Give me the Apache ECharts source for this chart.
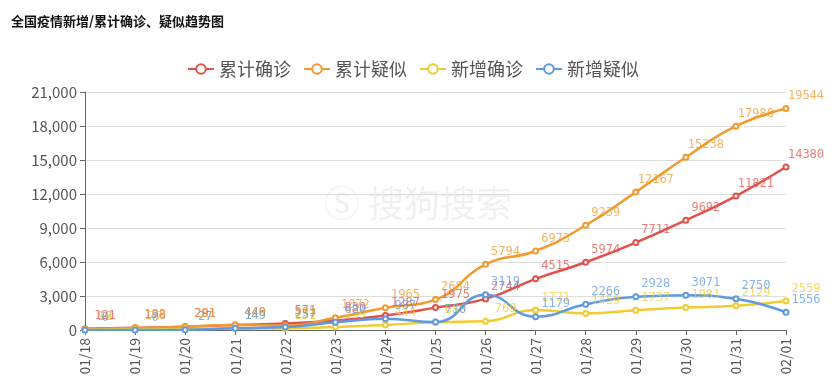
<!DOCTYPE html>
<html><head><meta charset="utf-8">
<script src="https://cdn.jsdelivr.net/npm/echarts@6/dist/echarts.min.js"></script>
<style>html,body{margin:0;padding:0;background:#fff}#c{width:836px;height:385px}</style>
</head><body><div id="c"></div>
<script>
var dates = ['01/18','01/19','01/20','01/21','01/22','01/23','01/24','01/25','01/26','01/27','01/28','01/29','01/30','01/31','02/01'];
var cumConfirmed = [121,198,291,440,571,830,1287,1975,2744,4515,5974,7711,9692,11821,14380];
var cumSuspected = [98,178,281,449,393,1072,1965,2684,5794,6973,9239,12167,15238,17988,19544];
var newConfirmed = [17,77,77,149,131,259,444,688,769,1771,1459,1737,1981,2129,2559];
var newSuspected = [0,0,27,149,257,680,987,710,3119,1179,2266,2928,3071,2750,1556];
var names = ['累计确诊','累计疑似','新增确诊','新增疑似'];
var colors = ['#e0524c','#f09a30','#f0cc30','#5f9ae0'];
var seriesData = [cumConfirmed, cumSuspected, newConfirmed, newSuspected];

var chart = echarts.init(document.getElementById('c'));
var font = '"Noto Sans CJK SC","Noto Sans",sans-serif';
chart.setOption({
  animation: false,
  color: colors,
  title: {text: '全国疫情新增/累计确诊、疑似趋势图', left: 6, top: 10,
    textStyle: {fontSize: 13, fontWeight: 'bold', color: '#111', fontFamily: font}},
  legend: {top: 55, left: 182, itemWidth: 26, itemHeight: 12, itemGap: 12,
    textStyle: {fontSize: 18, color: '#555', fontFamily: font},
    data: names},
  grid: {left: 85, right: 50, top: 92, bottom: 55},
  graphic: [{type: 'text', left: 'center', top: 185, style: {text: 'Ⓢ 搜狗搜索', fontSize: 36, fill: 'rgba(0,0,0,0.06)', fontFamily: font}}],
  xAxis: {type: 'category', data: dates, boundaryGap: false,
    axisLine: {lineStyle: {color: '#666'}},
    axisTick: {alignWithLabel: true, lineStyle: {color: '#666'}},
    axisLabel: {rotate: 90, fontSize: 14, color: '#555', fontFamily: font, margin: 8}},
  yAxis: {type: 'value', min: 0, max: 21000, interval: 3000,
    axisLine: {show: true, lineStyle: {color: '#666'}},
    axisTick: {show: true, lineStyle: {color: '#666'}},
    splitLine: {lineStyle: {color: '#ddd'}},
    axisLabel: {fontSize: 15, color: '#555', fontFamily: font,
      formatter: function(v){return v.toLocaleString('en-US');}}},
  series: seriesData.map(function(d, i){
    return {name: names[i], type: 'line', smooth: true, data: d,
      symbol: 'emptyCircle', symbolSize: 5, showAllSymbol: true,
      lineStyle: {width: 2.5, color: colors[i]},
      itemStyle: {color: colors[i], borderColor: colors[i]},
      label: {show: true, position: 'top', offset: [20, 2], fontSize: 12, opacity: 0.75,
        color: colors[i], fontFamily: '"DejaVu Sans Mono",monospace'}};
  })
});
</script></body></html>
